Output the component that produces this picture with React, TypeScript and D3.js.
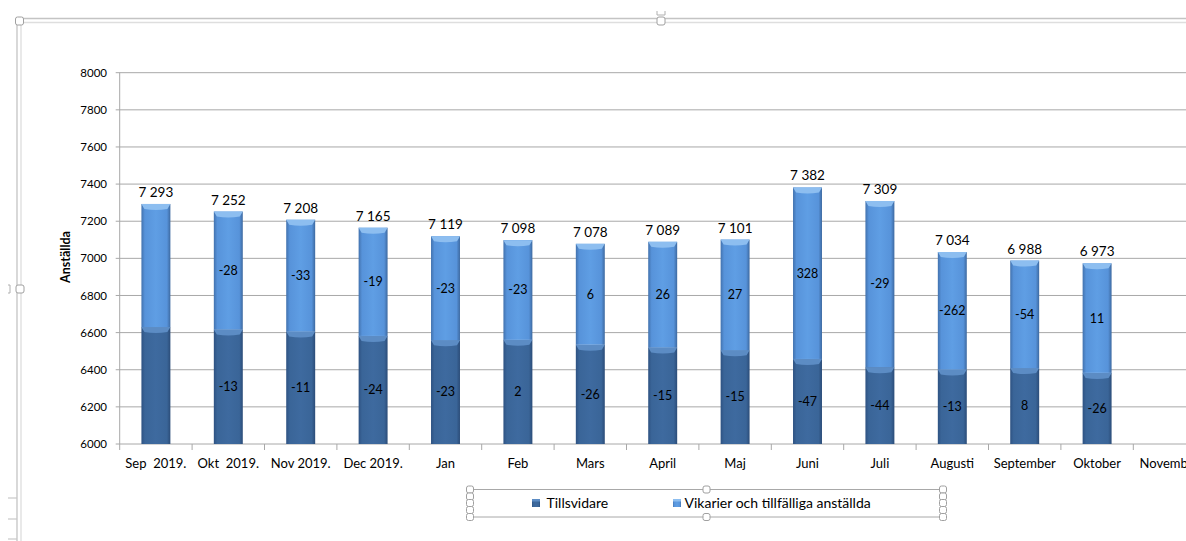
import React from "react";
import * as d3 from "d3";

const categories = [
  "Sep  2019.", "Okt  2019.", "Nov 2019.", "Dec 2019.", "Jan", "Feb", "Mars",
  "April", "Maj", "Juni", "Juli", "Augusti", "September", "Oktober", "November",
];
const tillsvidare = [6630, 6617, 6606, 6582, 6559, 6561, 6535, 6520, 6505, 6458, 6414, 6401, 6409, 6383];
const vikarier = [663, 635, 602, 583, 560, 537, 543, 569, 596, 924, 895, 633, 579, 590];
const totalLabels = ["7 293", "7 252", "7 208", "7 165", "7 119", "7 098", "7 078", "7 089", "7 101", "7 382", "7 309", "7 034", "6 988", "6 973"];
const tillsvidareChange = ["", "-13", "-11", "-24", "-23", "2", "-26", "-15", "-15", "-47", "-44", "-13", "8", "-26"];
const vikarierChange = ["", "-28", "-33", "-19", "-23", "-23", "6", "26", "27", "328", "-29", "-262", "-54", "11"];
const yTicks = [6000, 6200, 6400, 6600, 6800, 7000, 7200, 7400, 7600, 7800, 8000];
const seriesNames = ["Tillsvidare", "Vikarier och tillfälliga anställda"];

const W = 1186;
const H = 541;
const left = 119.7;
const step = 72.4;
const font = "Lato, 'Open Sans', sans-serif";

export default function App() {
  const x = d3.scaleBand<string>().domain(categories).range([left, left + step * categories.length]).padding(0);
  const y = d3.scaleLinear().domain([6000, 8000]).range([444, 72.7]);
  const bw = x.bandwidth() * 0.4;
  const stack = d3.stack<number>().keys(["t", "v"]).value((i, k) => (k === "t" ? tillsvidare[i] - 6000 : vikarier[i]));
  const series = stack(d3.range(tillsvidare.length));
  const plotRight = left + step * categories.length;

  const bevel = (x0: number, top: number, w: number, fill: string, key: string) => (
    <path
      key={key}
      d={`M${x0},${top} L${x0 + w},${top} L${x0 + w - 3},${top + 5} Q${x0 + w / 2},${top + 7} ${x0 + 3},${top + 5} Z`}
      fill={fill}
    />
  );

  const handle = (cx: number, cy: number, key: string) => (
    <rect key={key} x={cx - 4} y={cy - 4} width={8} height={8} rx={2} fill="#fff" stroke="#a0a0a0" strokeWidth={1} />
  );

  return (
    <svg width={W} height={H} style={{ position: "absolute", left: 0, top: 0, background: "#fff" }}>
      <defs>
        <linearGradient id="gLight" x1="0" x2="1" y1="0" y2="0">
          <stop offset="0" stopColor="#4272ae" />
          <stop offset="0.12" stopColor="#5793da" />
          <stop offset="0.5" stopColor="#5f9ee4" />
          <stop offset="0.88" stopColor="#5793da" />
          <stop offset="1" stopColor="#3d69a0" />
        </linearGradient>
        <linearGradient id="gDark" x1="0" x2="1" y1="0" y2="0">
          <stop offset="0" stopColor="#2e5282" />
          <stop offset="0.12" stopColor="#3a6598" />
          <stop offset="0.5" stopColor="#3e6a9f" />
          <stop offset="0.88" stopColor="#3a6598" />
          <stop offset="1" stopColor="#2b4c78" />
        </linearGradient>
        <clipPath id="clipAll">
          <rect x={0} y={0} width={W} height={H} />
        </clipPath>
      </defs>

      {/* outer frame (selection) */}
      <line x1={17} x2={W} y1={18.5} y2={18.5} stroke="#c4c4c4" strokeWidth={1.3} />
      <line x1={21} x2={W} y1={22.5} y2={22.5} stroke="#dedede" strokeWidth={1.3} />
      <line x1={17} x2={17} y1={18.5} y2={H} stroke="#c4c4c4" strokeWidth={1.3} />
      <line x1={21} x2={21} y1={22.5} y2={H} stroke="#dedede" strokeWidth={1.3} />
      {[498, 519, 539].map((yy) => (
        <line key={yy} x1={8} x2={17} y1={yy} y2={yy} stroke="#c8c8c8" strokeWidth={1.2} />
      ))}
      {handle(19.5, 21, "h1")}
      {handle(661, 21, "h2")}
      {handle(20, 289, "h3")}
      <path d="M657,11 L657,15 L665,15 L665,11" fill="none" stroke="#b0b0b0" strokeWidth={1} />
      <path d="M8,285 L10,285 L10,293 L8,293" fill="none" stroke="#b0b0b0" strokeWidth={1} />

      <g clipPath="url(#clipAll)">
        {/* gridlines */}
        {yTicks.map((t) => (
          <line key={t} x1={left - 4} x2={plotRight} y1={y(t)} y2={y(t)} stroke="#a8a8a8" strokeWidth={1} />
        ))}
        <line x1={left} x2={left} y1={y(8000)} y2={y(6000)} stroke="#a8a8a8" strokeWidth={1} />
        {categories.map((c, i) => (
          <line key={c} x1={left + step * (i + 1)} x2={left + step * (i + 1)} y1={444} y2={450} stroke="#a8a8a8" strokeWidth={1} />
        ))}
        <line x1={left} x2={left} y1={444} y2={450} stroke="#a8a8a8" strokeWidth={1} />

        {/* tick labels */}
        {yTicks.map((t) => (
          <text key={t} x={107} y={y(t)} dy="0.35em" textAnchor="end" fontFamily={font} fontSize={11.5} fill="#000">
            {t}
          </text>
        ))}
        {categories.map((c) => (
          <text key={c} x={(x(c) as number) + x.bandwidth() / 2} y={468} textAnchor="middle" fontFamily={font} fontSize={13} fill="#000" style={{ whiteSpace: "pre" }}>
            {c}
          </text>
        ))}

        {/* bars */}
        {series.map((s, si) =>
          s.map((d, i) => {
            const cx = (x(categories[i]) as number) + x.bandwidth() / 2;
            const x0 = cx - bw / 2;
            const y0 = y(6000 + d[1]);
            const y1 = y(6000 + d[0]);
            return (
              <g key={`${si}-${i}`}>
                <rect x={x0} y={y0} width={bw} height={y1 - y0} fill={si === 0 ? "url(#gDark)" : "url(#gLight)"} />
                {bevel(x0, y0, bw, si === 0 ? "#5c8cc4" : "#8dbef0", `b${si}-${i}`)}
              </g>
            );
          })
        )}

        {/* in-bar labels */}
        {series.map((s, si) =>
          s.map((d, i) => {
            const cx = (x(categories[i]) as number) + x.bandwidth() / 2;
            const mid = (y(6000 + d[0]) + y(6000 + d[1])) / 2;
            const lbl = si === 0 ? tillsvidareChange[i] : vikarierChange[i];
            return (
              <text key={`l${si}-${i}`} x={cx} y={mid} dy="0.35em" textAnchor="middle" fontFamily={font} fontSize={12.5} fill="#000">
                {lbl}
              </text>
            );
          })
        )}

        {/* total labels */}
        {totalLabels.map((t, i) => {
          const cx = (x(categories[i]) as number) + x.bandwidth() / 2;
          return (
            <text key={`t${i}`} x={cx} y={y(tillsvidare[i] + vikarier[i]) - 7} textAnchor="middle" fontFamily={font} fontSize={13.5} fill="#000">
              {t}
            </text>
          );
        })}
      </g>

      {/* y axis title */}
      <text transform="translate(70,257) rotate(-90)" textAnchor="middle" fontFamily={font} fontSize={12.5} fontWeight="bold" fill="#000">
        Anställda
      </text>

      {/* legend */}
      <rect x={470} y={489.5} width={473} height={27.5} fill="none" stroke="#a8a8a8" strokeWidth={1} />
      {[
        [470, 489.5], [706.5, 489.5], [943, 489.5],
        [470, 496.5], [943, 496.5], [470, 503], [943, 503], [470, 510], [943, 510],
        [470, 517], [706.5, 517], [943, 517],
      ].map(([hx, hy], k) => (
        <rect key={`lh${k}`} x={hx - 3.5} y={hy - 3.5} width={7} height={7} rx={2} fill="#fff" stroke="#a0a0a0" strokeWidth={1} />
      ))}
      <rect x={532} y={499} width={8} height={8} fill="url(#gDark)" />
      <rect x={532} y={499} width={8} height={2.5} fill="#5c8cc4" />
      <text x={546.5} y={508} fontFamily={font} fontSize={14} fill="#000">{seriesNames[0]}</text>
      <rect x={673} y={499} width={8} height={8} fill="url(#gLight)" />
      <rect x={673} y={499} width={8} height={2.5} fill="#8dbef0" />
      <text x={684.5} y={508} fontFamily={font} fontSize={14} fill="#000">{seriesNames[1]}</text>
    </svg>
  );
}
